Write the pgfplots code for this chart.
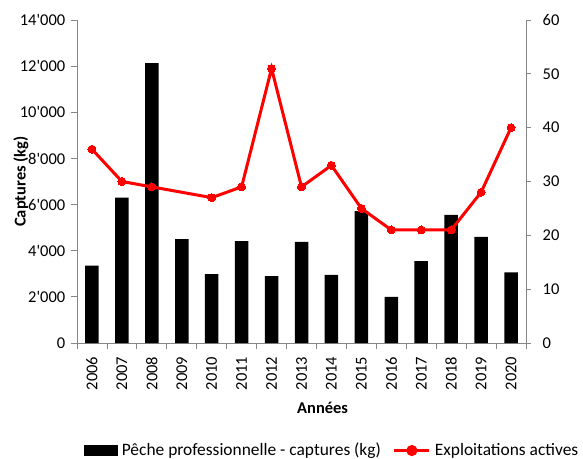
\documentclass[border=0pt]{standalone}
\usepackage{fontspec}
\setmainfont{Carlito}
\usepackage{pgfplots}
\pgfplotsset{compat=1.18}
\definecolor{axgray}{HTML}{868686}
\begin{document}
\fontsize{16.5bp}{19bp}\selectfont
\begin{tikzpicture}
\path[use as bounding box] (-77bp,-116bp) rectangle (506bp,343bp);
\begin{axis}[
  scale only axis, width=449bp, height=323bp,
  xmin=-0.5, xmax=14.5, ymin=0, ymax=14000,
  axis x line*=bottom, axis y line*=left,
  axis line style={axgray, line width=0.8bp, -},
  tick style={axgray, line width=0.8bp},
  tick align=outside,
  major tick length=6bp, minor tick length=6bp,
  xtick={0,...,14},
  xticklabels={2006,2007,2008,2009,2010,2011,2012,2013,2014,2015,2016,2017,2018,2019,2020},
  major x tick style={draw=none},
  minor xtick={-0.5,0.5,...,14.5},
  xticklabel style={rotate=90, anchor=east, black, yshift=0bp, xshift=-2bp},
  ytick={0,2000,...,14000},
  scaled y ticks=false,
  yticklabel style={black, /pgf/number format/.cd, 1000 sep={\textquotesingle}, assume math mode=true},
  ylabel={\bfseries Captures (kg)},
  ylabel style={at={(axis description cs:-0.125,0.5)}, anchor=center},
  xlabel={\bfseries Années},
  xlabel style={at={(axis description cs:0.547,-0.201)}, anchor=center},
]
\addplot[ybar, bar width=13.5bp, fill=black, draw=none] coordinates {
(0,3350) (1,6300) (2,12130) (3,4500) (4,2990) (5,4420) (6,2900) (7,4380)
(8,2950) (9,5720) (10,2000) (11,3550) (12,5550) (13,4600) (14,3060)
};
\end{axis}
\begin{axis}[
  scale only axis, width=449bp, height=323bp,
  xmin=-0.5, xmax=14.5, ymin=0, ymax=60,
  axis x line=none, axis y line*=right,
  axis line style={axgray, line width=0.8bp, -},
  tick style={axgray, line width=0.8bp},
  tick align=outside, major tick length=5bp,
  xtick=\empty,
  ytick={0,10,...,60},
  yticklabel style={black, /pgf/number format/assume math mode=true, xshift=6bp},
  legend style={at={(axis description cs:0.0095,-0.333)}, anchor=west, draw=none, fill=none,
    legend columns=2,
    /tikz/every odd column/.append style={column sep=2bp},
    /tikz/every even column/.append style={column sep=10bp},
    font=\fontsize{17.4bp}{20bp}\selectfont},
  legend cell align=left,
]
\addlegendimage{legend image code/.code={\fill[black] (0bp,-5bp) rectangle (33bp,5bp);}}
\addlegendentry{Pêche professionnelle - captures (kg)}
\addplot[red, line width=3bp, mark=*, mark size=4bp, mark options={fill=red, line width=0bp},
  legend image code/.code={\draw[red,line width=3bp] (0bp,0bp) -- (35bp,0bp); \fill[red] (17.5bp,0bp) circle (4bp);}]
  coordinates {
(0,36) (1,30) (2,29) (4,27) (5,29) (6,51) (7,29) (8,33) (9,25) (10,21) (11,21) (12,21) (13,28) (14,40)
};
\addlegendentry{Exploitations actives}
\end{axis}
\end{tikzpicture}
\end{document}
